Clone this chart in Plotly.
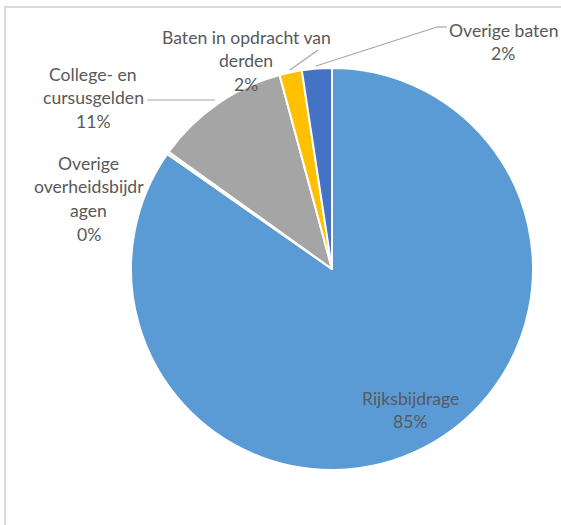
import plotly.graph_objects as go

W, H = 561, 525

categories = ["Rijksbijdrage", "Overige overheidsbijdragen", "College- en cursusgelden",
              "Baten in opdracht van derden", "Overige baten"]
values = [84.7, 0.2, 10.9, 1.8, 2.4]
colors = ["#5B9BD5", "#ED7D31", "#A5A5A5", "#FFC000", "#4472C4"]
# wrapped label lines as shown in the chart (name part)
label_lines = [
    ["Rijksbijdrage"],
    ["Overige", "overheidsbijdr", "agen"],
    ["College- en", "cursusgelden"],
    ["Baten in opdracht van", "derden"],
    ["Overige baten"],
]

# label placement (pixel centre x, first line y) and leader lines (pixel points)
label_pos = [(410, 398), (89, 163), (93, 74), (246, 37), (503, 30)]
leaders = [None, None, [(147, 100), (215, 100)], [(290, 70), (318, 50)],
           [(316, 66), (437, 27), (447, 27)]]

cx, cy, r = 332, 269, 201

def px(x):
    return x / W

def py(y):
    return 1 - y / H

fig = go.Figure(go.Pie(
    labels=categories, values=values, sort=False, direction="clockwise", rotation=0,
    marker=dict(colors=colors, line=dict(color="white", width=2)),
    textinfo="none", hoverinfo="label+percent", showlegend=False,
    domain=dict(x=[px(cx - r), px(cx + r)], y=[py(cy + r), py(cy - r)]),
))

total = sum(values)
annotations = []
shapes = []
font = dict(family="Lato, Carlito, sans-serif", size=17.6, color="#595959")
LS = 23.8
for i, cat in enumerate(categories):
    pct = f"{round(values[i] / total * 100)}%"
    lines = label_lines[i] + [pct]
    x0, y0 = label_pos[i]
    for k, t in enumerate(lines):
        annotations.append(dict(x=px(x0), y=py(y0 + k * LS), xref="paper", yref="paper",
                                text=t, showarrow=False, font=font,
                                xanchor="center", yanchor="middle"))
    if leaders[i]:
        pts = leaders[i]
        for a, b in zip(pts[:-1], pts[1:]):
            shapes.append(dict(type="line", xref="paper", yref="paper",
                               x0=px(a[0]), y0=py(a[1]), x1=px(b[0]), y1=py(b[1]),
                               line=dict(color="#A6A6A6", width=1.2)))

# chart frame (partially cropped in the reference)
shapes.append(dict(type="rect", xref="paper", yref="paper",
                   x0=px(5), y0=py(540), x1=px(580), y1=py(7),
                   line=dict(color="#D9D9D9", width=2), layer="below"))

fig.update_layout(
    width=W, height=H, margin=dict(l=0, r=0, t=0, b=0),
    paper_bgcolor="white", plot_bgcolor="white",
    annotations=annotations, shapes=shapes,
)

fig.write_html("out.html", config={"displayModeBar": False},
               post_script="document.body.style.margin='0';document.body.style.overflow='hidden';")
